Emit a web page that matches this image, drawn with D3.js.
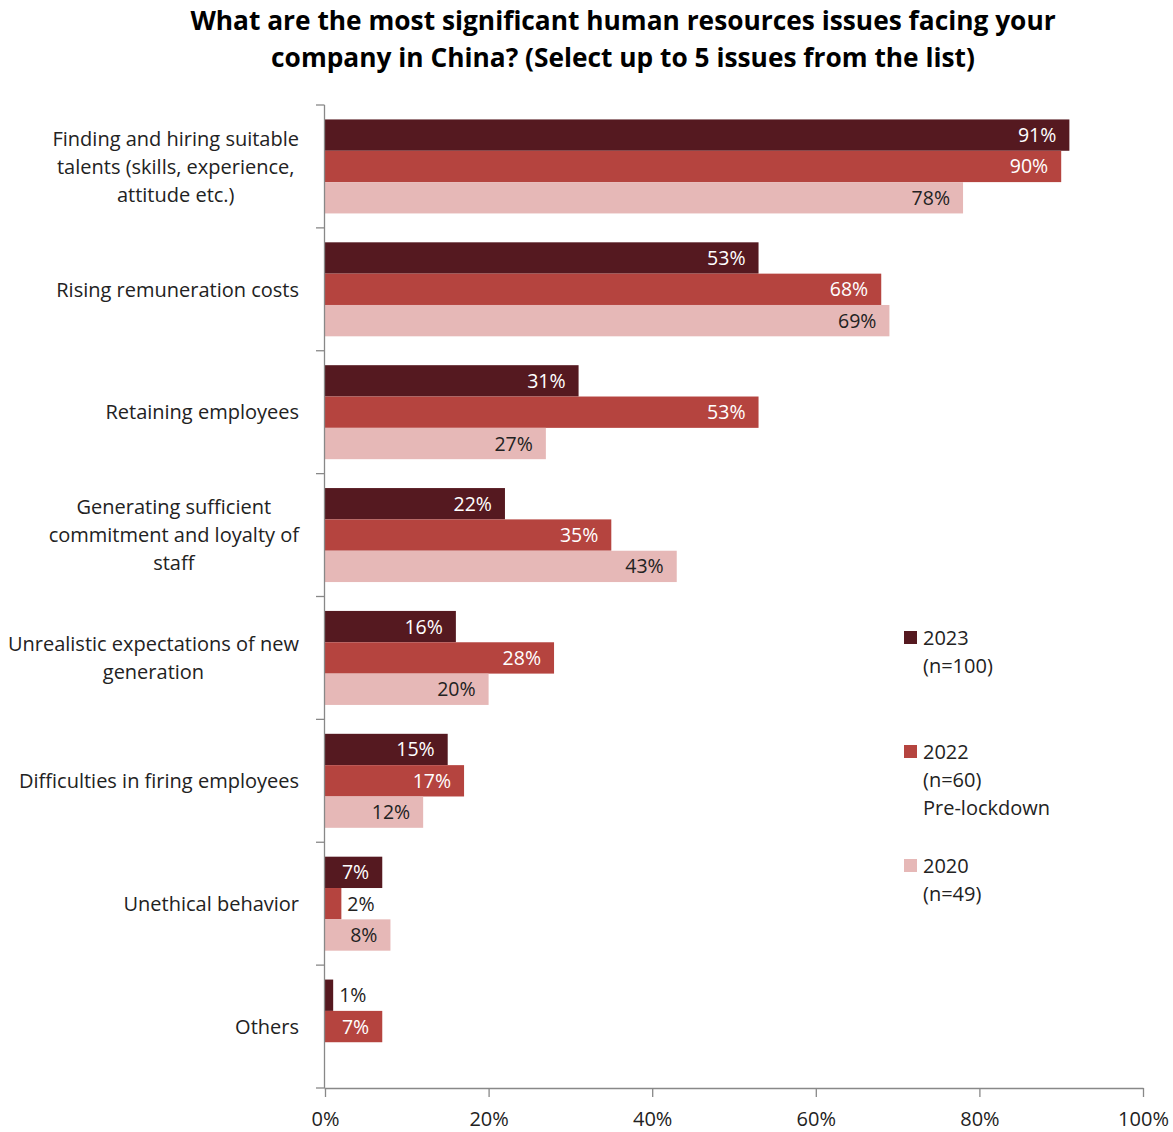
<!DOCTYPE html>
<html><head><meta charset="utf-8">
<script src="https://cdn.jsdelivr.net/npm/d3@7"></script>
<style>body{margin:0;background:#fff;} text{font-family:"Open Sans","Noto Sans",sans-serif;}</style>
</head><body><svg id="c" width="1173" height="1132"></svg>
<script>
const categories = [
  ["Finding and hiring suitable","talents (skills, experience,","attitude etc.)"],
  ["Rising remuneration costs"],
  ["Retaining employees"],
  ["Generating sufficient","commitment and loyalty of","staff"],
  ["Unrealistic expectations of new","generation"],
  ["Difficulties in firing employees"],
  ["Unethical behavior"],
  ["Others"]
];
const seriesNames = ["2023","2022","2020"];
const legendLabels = [["2023","(n=100)"],["2022","(n=60)","Pre-lockdown"],["2020","(n=49)"]];
const values2023 = [91,53,31,22,16,15,7,1];
const values2022 = [90,68,53,35,28,17,2,7];
const values2020 = [78,69,27,43,20,12,8,null];
const xTicks = [0,20,40,60,80,100];
const colors = ["#551920","#b5443f","#e6b8b7"];
const labelColors = ["#fff","#fff","#222"];

const svg = d3.select("#c");
const x = d3.scaleLinear().domain([0,100]).range([325,1143]);
const y = d3.scaleBand().domain(d3.range(categories.length)).range([105,1088]).paddingInner(0.235).paddingOuter(0.1175);
const sub = d3.scaleBand().domain(seriesNames).range([0,y.bandwidth()]);
const series = [values2023, values2022, values2020];

// title
const title = svg.append("text").attr("text-anchor","middle").attr("font-weight","bold").attr("font-size",26.3).attr("fill","#000");
title.append("tspan").attr("x",623).attr("y",30).text("What are the most significant human resources issues facing your");
title.append("tspan").attr("x",623).attr("y",67).text("company in China? (Select up to 5 issues from the list)");

// bars
series.forEach((vals,si)=>{
  const g = svg.append("g");
  vals.forEach((v,ci)=>{
    if(v==null) return;
    const y0 = y(ci)+sub(seriesNames[si]);
    g.append("rect").attr("x",x(0)).attr("y",y0).attr("width",x(v)-x(0)).attr("height",sub.bandwidth()).attr("fill",colors[si]);
    const inside = v>=5;
    g.append("text")
      .attr("x", inside ? x(v)-13 : x(v)+6)
      .attr("y", y0+sub.bandwidth()/2)
      .attr("dy","0.36em")
      .attr("text-anchor", inside ? "end":"start")
      .attr("font-size",19.5)
      .attr("fill", inside ? labelColors[si] : "#222")
      .text(v+"%");
  });
});

// y axis
const ya = svg.append("g").attr("stroke","#888").attr("stroke-width",1.3);
ya.append("line").attr("x1",324.5).attr("x2",324.5).attr("y1",105).attr("y2",1088);
d3.range(categories.length+1).forEach(i=>{
  const yy = 105 + i*(1088-105)/categories.length;
  ya.append("line").attr("x1",316).attr("x2",324.5).attr("y1",yy).attr("y2",yy);
});
// x axis
const xa = svg.append("g").attr("transform","translate(0,1088)")
  .call(d3.axisBottom(x).tickValues(xTicks).tickSize(9).tickPadding(15).tickFormat(d=>d+"%"));
xa.select(".domain").attr("stroke","#888").attr("stroke-width",1.3).attr("d","M324.5,0.5H1143.5");
xa.selectAll(".tick line").attr("stroke","#888").attr("stroke-width",1.3);
xa.selectAll(".tick text").attr("font-size",20).attr("fill","#222").attr("font-family","Open Sans, Noto Sans, sans-serif");

// category labels
categories.forEach((lines,ci)=>{
  const cy = y(ci)+y.bandwidth()/2;
  const lh = 28;
  const t = svg.append("text").attr("font-size",20).attr("fill","#222").attr("text-anchor","middle");
  const tmp = lines.map(l=>{const s=t.append("tspan").text(l); const w=s.node().getComputedTextLength(); s.remove(); return w;});
  const maxW = d3.max(tmp);
  const cx = 299 - maxW/2;
  lines.forEach((l,i)=>{
    t.append("tspan").attr("x",cx).attr("y",cy+(i-(lines.length-1)/2)*lh).attr("dy","0.36em").text(l);
  });
});

// legend
const legY = [638,752,866];
legendLabels.forEach((lines,i)=>{
  svg.append("rect").attr("x",904).attr("y",legY[i]-7).attr("width",13).attr("height",13).attr("fill",colors[i]);
  const t = svg.append("text").attr("font-size",20).attr("fill","#222");
  lines.forEach((l,j)=>t.append("tspan").attr("x",923).attr("y",legY[i]+j*28).attr("dy","0.36em").text(l));
});
</script></body></html>
